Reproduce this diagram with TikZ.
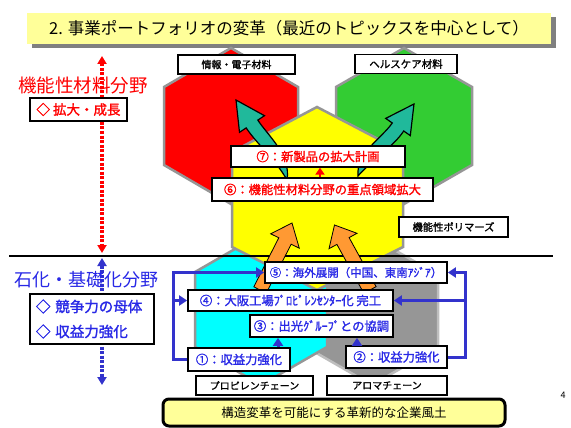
\documentclass[tikz,border=0pt]{standalone}
\usepackage{fontspec}
\newfontfamily\jp{Noto Sans CJK JP}
\newfontfamily\jpb[FakeBold=1.5]{Noto Sans CJK JP}
\usetikzlibrary{arrows.meta,shadows}
\definecolor{hexred}{RGB}{255,0,0}
\definecolor{hexgreen}{RGB}{51,204,51}
\definecolor{hexyellow}{RGB}{255,255,0}
\definecolor{hexcyan}{RGB}{0,255,255}
\definecolor{hexgray}{RGB}{150,150,150}
\definecolor{hexline}{RGB}{150,150,150}
\definecolor{hexlinelight}{RGB}{190,190,190}
\definecolor{titleyellow}{RGB}{255,255,153}
\definecolor{txtblue}{RGB}{40,40,230}
\definecolor{lineblue}{RGB}{51,51,204}
\definecolor{teal2}{RGB}{32,185,155}
\definecolor{orange2}{RGB}{255,153,51}
\definecolor{shadowgray}{RGB}{128,128,128}
\begin{document}
\begin{tikzpicture}[x=1pt,y=-1pt,
  hex/.style={draw=hexline, line width=2.5pt, line join=miter},
  lab/.style={draw=black, line width=1.8pt, fill=white, inner sep=0pt, text=black,
    font=\jpb\fontsize{10}{12}\selectfont},
  redlab/.style={lab, text=red, font=\jpb\fontsize{12.3}{14}\selectfont},
  bluelab/.style={lab, text=txtblue, font=\jpb\fontsize{12.3}{14}\selectfont},
  bl/.style={draw=lineblue, line width=3pt, line join=miter, -{Triangle[length=8pt,width=10pt]}},
  redarr/.style={draw=red, line width=2.5pt, -{Triangle[length=7pt,width=9pt]}},
  dotarrow/.style={line width=3.5pt, dash pattern=on 3pt off 1.5pt,
    {Triangle[length=8pt,width=9pt]}-{Triangle[length=8pt,width=9pt]}},
  tealarrow/.style={draw=black, line width=1.2pt, fill=teal2, line join=miter},
  orarrow/.style={draw=black, line width=0.8pt, fill=orange2, line join=miter}
]
\useasboundingbox (0,0) rectangle (571,428);
\fill[white] (0,0) rectangle (571,428);

% title
\node[fill=titleyellow, minimum width=524pt, minimum height=31pt, inner sep=0pt,
  drop shadow={shadow xshift=5pt, shadow yshift=-4pt, fill=shadowgray, opacity=1},
  font=\jp\fontsize{16.5}{18}\selectfont] (title) at (289,28.5)
  {2. 事業ポートフォリオの変革（最近のトピックスを中心として）};

% hexagons
\draw[hex, fill=hexred] (231,48) -- (298,87) -- (298,165) -- (231,204) -- (164,165) -- (164,87) -- cycle;
\draw[hex, fill=hexgreen] (404,48) -- (472,87) -- (472,165) -- (404,204) -- (336,165) -- (336,87) -- cycle;
\draw[hex, draw=hexlinelight, fill=hexgray] (372,237) -- (438,275) -- (438,347) -- (372,385) -- (306,347) -- (306,275) -- cycle;
\draw[hex, fill=hexcyan] (261,234) -- (327,272) -- (327,347) -- (261,385) -- (195,347) -- (195,272) -- cycle;
\draw[hex, fill=hexyellow] (317,107) -- (403,152) -- (403,247) -- (317,290) -- (232,247) -- (232,152) -- cycle;

% separator line
\coordinate (hl) at (9,256);
\coordinate (hr) at (553,256);
\draw[line width=2pt] (hl) -- (hr);

% teal curved arrows
\draw[tealarrow] (236,100) -- (264.5,115.7) -- (257.8,120.1) .. controls (269,137) and (291,155) .. (287,180)
  .. controls (276,160) and (256,143) .. (246.2,127.9) -- (239.5,132.3) -- cycle;
\draw[tealarrow] (414,104) -- (410.3,135.6) -- (403.7,131) .. controls (394,146) and (372,160) .. (358,176)
  .. controls (356,153) and (381,139) .. (392.3,123) -- (385.7,118.4) -- cycle;

% orange arrows
\draw[orarrow] (253.8,286.8) -- (278.8,237.8) -- (270.7,233.8) -- (292,223) -- (299.3,248.2) -- (291.2,244.2) -- (266.2,293.2) -- cycle;
\draw[orarrow] (363.9,293.4) -- (336.9,244.4) -- (329,248.7) -- (334.5,225) -- (357,233.3) -- (349.1,237.6) -- (376.1,286.6) -- cycle;

% top labels
\node[lab, minimum width=117pt, minimum height=19pt] (joho) at (236.5,64.5) {情報・電子材料};
\node[lab, minimum width=102pt, minimum height=19pt, font=\jpb\fontsize{10.5}{12}\selectfont] (health) at (406,64) {ヘルスケア材料};
\node[redlab, line width=1.3pt, minimum width=174pt, minimum height=21pt] (n7) at (318,156.5) {⑦：新製品の拡大計画};
\node[redlab, line width=2.3pt, minimum width=221pt, minimum height=23pt] (n6) at (322.5,189.5) {⑥：機能性材料分野の重点領域拡大};
\node[lab, minimum width=109pt, minimum height=20pt, font=\jpb\fontsize{10.3}{12}\selectfont] (poly) at (453.5,227) {機能性ポリマーズ};
\coordinate (a6) at (320,0);
\draw[redarr] (n6.north -| a6) -- (n7.south -| a6);

% left side
\coordinate (rt) at (102,56);
\coordinate (rb) at (102,253);
\coordinate (bt) at (102,258);
\coordinate (bb) at (102,385);
\draw[dotarrow, red] (rt) -- (rb);
\draw[dotarrow, lineblue] (bt) -- (bb);
\node[text=red, font=\jp\fontsize{18.5}{20}\selectfont, inner sep=0pt] (kino) at (83,85.5) {機能性材料分野};
\node[lab, text=red, minimum width=97pt, minimum height=23pt, font=\jpb\fontsize{13.5}{15}\selectfont] (kakudai) at (78.5,109.5) {◇ 拡大・成長};
\node[text=txtblue, font=\jp\fontsize{18}{20}\selectfont, inner sep=0pt] (sekka) at (87,280) {石化・基礎化分野};
\node[lab, text=txtblue, minimum width=124pt, minimum height=50pt, align=left, text width=112pt,
  font=\jpb\fontsize{14.5}{25}\selectfont] (kyoso) at (92,319) {◇ 競争力の母体\\◇ 収益力強化};

% lower boxes
\node[bluelab, minimum width=182pt, minimum height=21pt, font=\jpb\fontsize{11.5}{14}\selectfont] (n5) at (356,272.5) {⑤：海外展開（中国、東南ｱｼﾞｱ）};
\node[bluelab, minimum width=205pt, minimum height=21pt] (n4) at (290.5,300.5) {④：大阪工場ﾌﾟﾛﾋﾟﾚﾝｾﾝﾀｰ化 完工};
\node[bluelab, minimum width=143pt, minimum height=22pt] (n3) at (321.5,326) {③：出光ｸﾞﾙｰﾌﾟとの協調};
\node[bluelab, minimum width=102pt, minimum height=23pt] (n1) at (239,359.5) {①：収益力強化};
\node[bluelab, minimum width=101pt, minimum height=22pt] (n2) at (396.5,357) {②：収益力強化};
\node[lab, minimum width=117pt, minimum height=19pt] (prop) at (254.5,385.5) {プロピレンチェーン};
\node[lab, minimum width=120pt, minimum height=19pt] (arom) at (387,385.5) {アロマチェーン};

% blue connectors
\coordinate (lx) at (173,0);
\coordinate (rx) at (465,0);
\coordinate (a1) at (278,0);
\coordinate (a2) at (357,0);
\draw[bl] (n1.west) -| (n5.west -| lx) -- (n5.west);
\draw[bl] (n4.west -| lx) -- (n4.west);
\draw[bl] (n2.east) -| (n5.east -| rx) -- (n5.east);
\draw[bl] (n4.east -| rx) -- (n4.east);
\draw[bl] (n1.north -| a1) -- (n3.south -| a1);
\draw[bl] (n2.north -| a2) -- (n3.south -| a2);

% bottom box
\node[draw=black, line width=3pt, rounded corners=6pt, fill=titleyellow, minimum width=342pt,
  minimum height=27pt, inner sep=0pt, font=\jp\fontsize{12.5}{14}\selectfont] (culture) at (334,412.5)
  {構造変革を可能にする革新的な企業風土};
\node[font=\jp\fontsize{9}{10}\selectfont, inner sep=0pt] (pnum) at (563,395) {4};
\end{tikzpicture}
\end{document}
